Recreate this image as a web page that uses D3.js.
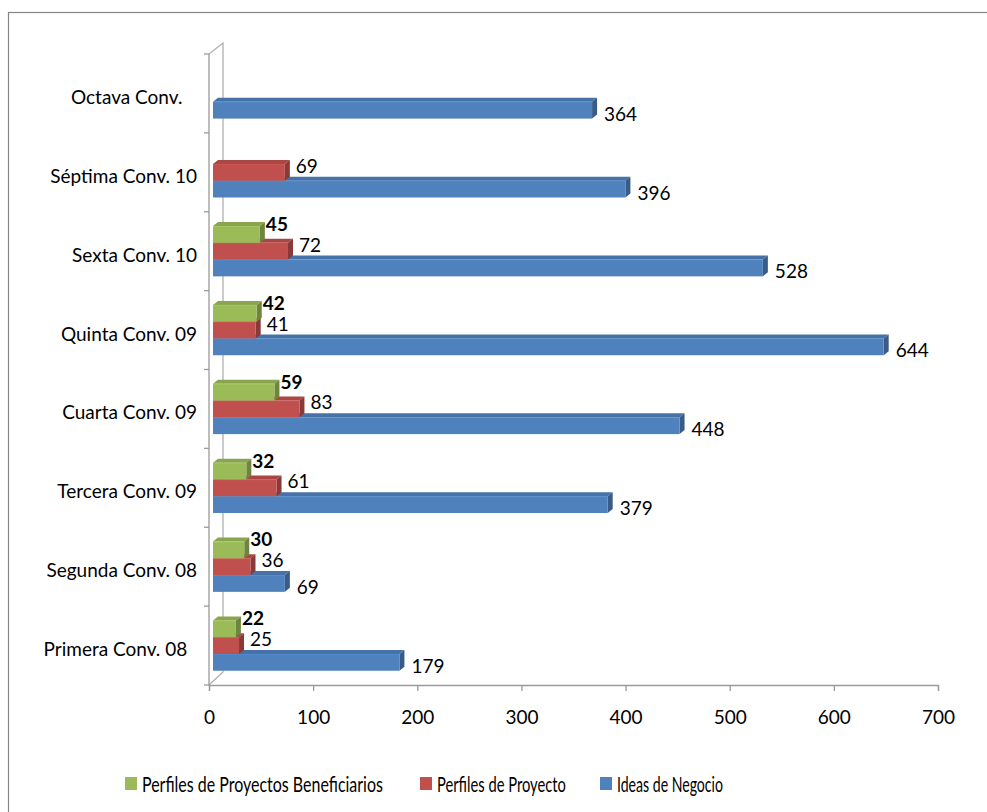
<!DOCTYPE html>
<html>
<head>
<meta charset="utf-8">
<script src="https://cdn.jsdelivr.net/npm/d3@7"></script>
<style>
  html, body { margin: 0; padding: 0; background: #ffffff; }
  svg { display: block; }
  text { font-family: Lato, "Open Sans", "Liberation Sans", sans-serif; fill: #000; }
</style>
</head>
<body>
<svg id="chart" width="987" height="812"></svg>
<script>
// ---------------- data ----------------
const categories = [
  "Primera Conv. 08  ",
  "Segunda Conv. 08",
  "Tercera Conv. 09",
  "Cuarta Conv. 09",
  "Quinta Conv. 09",
  "Sexta Conv. 10",
  "Séptima Conv. 10",
  "Octava Conv.   "
];
const ideasNegocio          = [179, 69, 379, 448, 644, 528, 396, 364];
const perfilesProyecto      = [25, 36, 61, 83, 41, 72, 69, null];
const perfilesBeneficiarios = [22, 30, 32, 59, 42, 45, null, null];
const seriesNames = ["Perfiles de Proyectos Beneficiarios", "Perfiles de Proyecto", "Ideas de Negocio"];
const seriesColors = ["#9BBB59", "#C0504D", "#4F81BD"];
const xTicks = [0, 100, 200, 300, 400, 500, 600, 700];

// ---------------- layout ----------------
const svg = d3.select("#chart");

// outer chart border
svg.append("rect")
  .attr("x", 8.5).attr("y", 12.5)
  .attr("width", 1000).attr("height", 820)
  .attr("fill", "#fff").attr("stroke", "#868686").attr("stroke-width", 1.2);

const x = d3.scaleLinear().domain([0, 700]).range([209, 938]);
const y = d3.scaleBand().domain(categories.slice().reverse()).range([54, 685]).padding(0);
const seriesKeys = ["ben", "perf", "ideas"];
const inner = d3.scaleBand().domain(seriesKeys).range([0, y.bandwidth()]).paddingInner(0).paddingOuter(0.85);

const depthX = 5, depthY = -4;   // 3D depth of bars
const barOffset = 4;             // bars sit slightly behind the front wall edge

// ---------------- walls / axes ----------------
const axisCol = "#9a9a9a";
const x0 = x(0);
svg.append("path")
  .attr("d", `M${x0},${y.range()[0]} L${x0 + 14},${y.range()[0] - 11} L${x0 + 14},${y.range()[1] - 13} L${x0},${y.range()[1]}`)
  .attr("fill", "none").attr("stroke", "#b0b0b0").attr("stroke-width", 1.3);

// ---------------- bars ----------------
const seriesData = [
  { key: "ideas", name: seriesNames[2], color: seriesColors[2], values: ideasNegocio },
  { key: "perf",  name: seriesNames[1], color: seriesColors[1], values: perfilesProyecto },
  { key: "ben",   name: seriesNames[0], color: seriesColors[0], values: perfilesBeneficiarios }
];

const barsG = svg.append("g");
categories.forEach((cat, i) => {
  seriesData.forEach(s => {
    const v = s.values[i];
    if (v === null || v === undefined) return;
    const top = y(cat) + inner(s.key);
    const h = inner.bandwidth();
    const xs = x(0) + barOffset;
    const xe = x(v) + barOffset;
    const c = d3.color(s.color);
    const gb = barsG.append("g");
    gb.append("path")
      .attr("d", `M${xs},${top} L${xs + depthX},${top + depthY} L${xe + depthX},${top + depthY} L${xe},${top} Z`)
      .attr("fill", c.darker(0.35).formatHex());
    gb.append("path")
      .attr("d", `M${xe},${top} L${xe + depthX},${top + depthY} L${xe + depthX},${top + h + depthY} L${xe},${top + h} Z`)
      .attr("fill", c.darker(0.95).formatHex());
    gb.append("rect")
      .attr("x", xs).attr("y", top)
      .attr("width", Math.max(0, xe - xs)).attr("height", h)
      .attr("fill", s.color);
    gb.append("line")
      .attr("x1", xs).attr("x2", xe).attr("y1", top + 0.5).attr("y2", top + 0.5)
      .attr("stroke", c.brighter(0.3).formatHex()).attr("stroke-width", 1).attr("opacity", 0.6);
  });
});

// front wall line + category ticks
svg.append("line")
  .attr("x1", x0).attr("x2", x0).attr("y1", y.range()[0]).attr("y2", y.range()[1])
  .attr("stroke", axisCol).attr("stroke-width", 1.3);
const catBounds = categories.map(c => y(c)).concat([y.range()[1]]);
svg.selectAll(".ytick").data(catBounds).enter().append("line")
  .attr("x1", x0 - 5).attr("x2", x0)
  .attr("y1", d => d).attr("y2", d => d)
  .attr("stroke", axisCol).attr("stroke-width", 1.3);

// x axis
const xAxis = d3.axisBottom(x).tickValues(xTicks).tickSize(6).tickPadding(20).tickFormat(d3.format("d"));
const xg = svg.append("g").attr("transform", `translate(0,${y.range()[1]})`).call(xAxis);
xg.select(".domain").attr("stroke", axisCol).attr("stroke-width", 1.3);
xg.selectAll(".tick line").attr("stroke", axisCol).attr("stroke-width", 1.3);
xg.selectAll(".tick text").attr("font-size", 19).attr("font-family", "Lato, sans-serif").attr("fill", "#000");

// category labels
svg.selectAll(".cat").data(categories).enter().append("text")
  .attr("x", 197)
  .attr("y", d => y(d) + y.bandwidth() / 2 + 3)
  .attr("text-anchor", "end")
  .attr("dominant-baseline", "central")
  .attr("font-size", 19)
  .style("white-space", "pre")
  .text(d => d);

// data labels
categories.forEach((cat, i) => {
  seriesData.forEach(s => {
    const v = s.values[i];
    if (v === null || v === undefined) return;
    const top = y(cat) + inner(s.key);
    const h = inner.bandwidth();
    const xe = x(v) + barOffset + depthX;
    let lx, ly, bold = false;
    if (s.key === "ideas") { lx = xe + 7; ly = top + h / 2 + 3; }
    else if (s.key === "perf") { lx = xe + 6; ly = top + h / 2 - 7; }
    else { lx = xe + 1; ly = top + h / 2 - 11; bold = true; }
    svg.append("text")
      .attr("x", lx).attr("y", ly)
      .attr("dominant-baseline", "central")
      .attr("font-size", 19)
      .attr("font-weight", bold ? "bold" : "normal")
      .text(v);
  });
});

// legend (text horizontally condensed to match the reference widths)
const legendItems = [
  { name: seriesNames[0], color: seriesColors[0], sx: 125, tw: 241 },
  { name: seriesNames[1], color: seriesColors[1], sx: 420, tw: 129 },
  { name: seriesNames[2], color: seriesColors[2], sx: 600, tw: 106 }
];
const lg = svg.append("g");
legendItems.forEach(it => {
  lg.append("rect").attr("x", it.sx).attr("y", 777).attr("width", 12).attr("height", 13).attr("fill", it.color);
  const t = lg.append("text")
    .attr("x", 0).attr("y", 0)
    .attr("dominant-baseline", "central")
    .attr("font-size", 21)
    .text(it.name);
  const natural = t.node().getComputedTextLength();
  const sx = it.tw / natural;
  t.attr("transform", `translate(${it.sx + 17},784) scale(${sx},1)`);
});
</script>
</body>
</html>
